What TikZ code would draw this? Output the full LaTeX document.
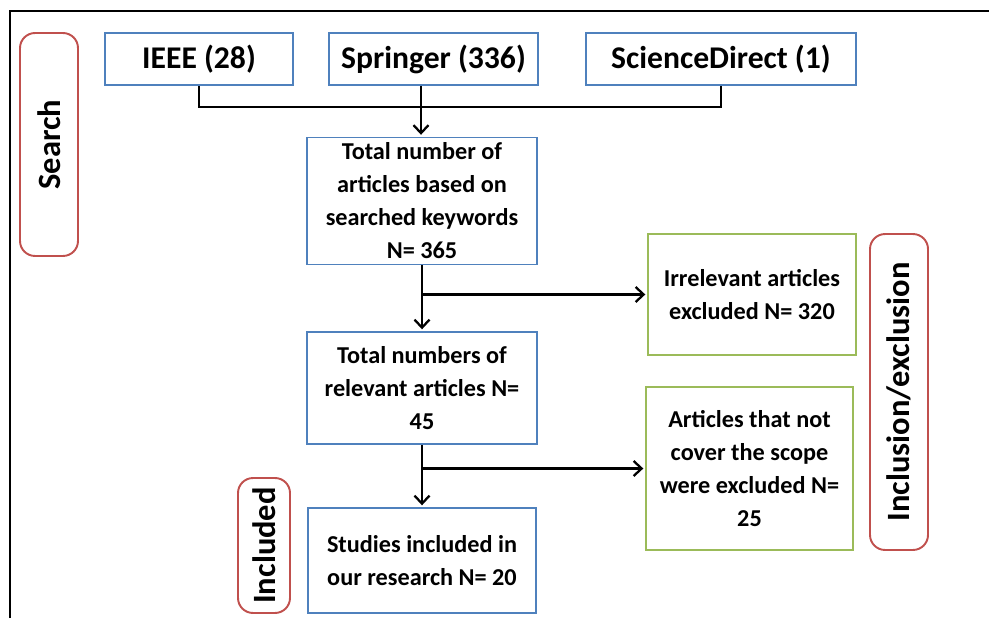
\documentclass[tikz,border=0pt]{standalone}
\usepackage{fontspec}
\setmainfont{Carlito}
\usepackage{tikz}
\usetikzlibrary{arrows.meta,positioning,calc}

\definecolor{boxblue}{RGB}{79,129,189}
\definecolor{boxgreen}{RGB}{155,187,89}
\definecolor{stagered}{RGB}{192,80,77}

\begin{document}
\begin{tikzpicture}[
    x=0.02cm, y=-0.02cm,
    src/.style={draw=boxblue, line width=1.1pt, inner sep=2pt, minimum height=1.04cm, font=\fontsize{18}{21}\selectfont\bfseries},
    box/.style={draw=boxblue, line width=1.1pt, align=center, inner sep=2pt, font=\fontsize{13.8}{18.8}\selectfont\bfseries},
    exbox/.style={box, draw=boxgreen},
    stage/.style={draw=stagered, line width=1.1pt, rounded corners=3mm, rotate=90, inner sep=2pt, font=\fontsize{18.5}{21}\selectfont\bfseries},
    arr/.style={-{Straight Barb[length=1.6mm, width=3mm]}, line width=1.3pt, shorten >=1pt},
    ln/.style={line width=1.3pt}
  ]
    \useasboundingbox (0,0) rectangle (989,618);
    \draw[line width=1.2pt] (10,618) -- (10,11) -- (989,11);

    % stages
    \node[stage, minimum width=4.46cm, minimum height=1.16cm] (search) at (49,144.5) {Search};
    \node[stage, minimum width=6.32cm, minimum height=1.16cm] (incl) at (899,392) {Inclusion/exclusion};
    \node[stage, minimum width=2.7cm, minimum height=1.04cm] (included) at (264,545.5) {Included};

    % sources
    \node[src, minimum width=3.76cm] (ieee) at (199,59) {IEEE (28)};
    \node[src, minimum width=4.18cm] (springer) at (433.5,59) {Springer (336)};
    \node[src, minimum width=5.4cm] (sd) at (721,59) {ScienceDirect (1)};

    % main flow
    \node[box, minimum width=4.6cm, minimum height=2.54cm] (total) at (422,201) {Total number of\\articles based on\\searched keywords\\N= 365};
    \node[box, minimum width=4.6cm, minimum height=2.24cm] (relevant) at (422,388) {Total numbers of\\relevant articles N=\\45};
    \node[box, minimum width=4.56cm, minimum height=2.1cm] (studies) at (422,560.5) {Studies included in\\our research N= 20};

    % excluded
    \node[exbox, minimum width=4.16cm, minimum height=2.42cm] (irrel) at (752,294.5) {Irrelevant articles\\excluded N= 320};
    \node[exbox, minimum width=4.14cm, minimum height=3.26cm] (scope) at (749.5,468.5) {Articles that not\\cover the scope\\were excluded N=\\25};

    \coordinate (join) at (421,107);
    \coordinate (br1) at (total.south |- irrel.west);
    \coordinate (br2) at (relevant.south |- scope.west);

    \draw[ln] (ieee.south) |- (join) -| (sd.south);
    \draw[ln] (springer.south -| join) -- (join);
    \draw[arr] (join) -- (join |- total.north);
    \draw[arr] (total.south) -- (relevant.north);
    \draw[arr] (br1) -- (irrel.west);
    \draw[arr] (relevant.south) -- (studies.north);
    \draw[arr] (br2) -- (scope.west);
\end{tikzpicture}
\end{document}
